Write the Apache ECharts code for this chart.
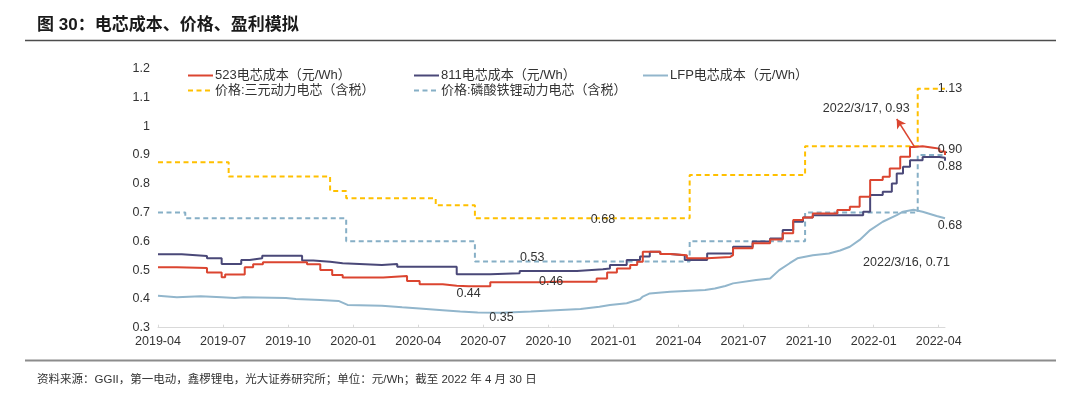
<!DOCTYPE html>
<html>
<head>
<meta charset="utf-8">
<script src="https://cdn.jsdelivr.net/npm/echarts@6/dist/echarts.min.js"></script>
<style>
html,body{margin:0;padding:0;background:#fff;}
#chart{width:1080px;height:394px;}
</style>
</head>
<body>
<div id="chart"></div>
<script>
// ---------------- DATA ----------------
const seriesNames = ['523电芯成本（元/Wh）', '811电芯成本（元/Wh）', 'LFP电芯成本（元/Wh）', '价格:三元动力电芯（含税）', '价格:磷酸铁锂动力电芯（含税）'];

const tickDates = ['2019-04-01','2019-07-03','2019-10-04','2020-01-05','2020-04-07','2020-07-09','2020-10-10','2021-01-11','2021-04-14','2021-07-16','2021-10-17','2022-01-18','2022-04-21'];
const tickLabels = ['2019-04','2019-07','2019-10','2020-01','2020-04','2020-07','2020-10','2021-01','2021-04','2021-07','2021-10','2022-01','2022-04'];
const xStart = '2019-04-01';
const xEnd = '2022-04-30';

const cost523 = [
 ['2019-04-01',0.510],['2019-04-28',0.507],['2019-06-10',0.492],['2019-07-01',0.475],['2019-07-06',0.485],
 ['2019-08-03',0.510],['2019-08-15',0.520],['2019-08-29',0.527],['2019-10-31',0.520],['2019-11-19',0.500],
 ['2019-12-06',0.483],['2019-12-21',0.474],['2020-02-17',0.480],['2020-03-22',0.462],['2020-04-09',0.451],
 ['2020-05-12',0.446],['2020-06-01',0.444],['2020-06-18',0.444],['2020-07-19',0.458],['2020-10-02',0.460],
 ['2020-10-14',0.460],['2020-12-18',0.471],['2021-01-02',0.492],['2021-01-16',0.506],['2021-02-04',0.518],
 ['2021-02-14',0.529],['2021-02-22',0.564],['2021-03-19',0.556],['2021-04-02',0.552],['2021-04-26',0.541],
 ['2021-05-25',0.546],['2021-06-27',0.552],['2021-07-01',0.576],['2021-07-29',0.593],['2021-08-23',0.606],
 ['2021-09-10',0.628],['2021-09-25',0.674],['2021-10-09',0.683],['2021-10-23',0.697],['2021-11-27',0.709],
 ['2021-12-15',0.720],['2021-12-29',0.755],['2022-01-13',0.813],['2022-01-31',0.824],['2022-02-10',0.853],
 ['2022-02-25',0.894],['2022-03-11',0.928],['2022-03-17',0.930],['2022-03-29',0.925],['2022-04-13',0.922],
 ['2022-04-22',0.912],['2022-04-30',0.900]
];

const cost811 = [
 ['2019-04-01',0.555],['2019-05-05',0.549],['2019-06-10',0.541],['2019-07-01',0.521],['2019-07-29',0.535],
 ['2019-08-10',0.541],['2019-08-28',0.550],['2019-10-24',0.533],['2019-11-09',0.529],['2019-12-03',0.524],
 ['2019-12-21',0.518],['2020-02-15',0.521],['2020-03-08',0.512],['2020-06-01',0.486],['2020-07-19',0.489],
 ['2020-08-30',0.497],['2020-11-20',0.503],['2020-12-27',0.506],['2021-01-06',0.518],['2021-01-30',0.535],
 ['2021-02-18',0.547],['2021-03-04',0.564],['2021-03-19',0.556],['2021-04-02',0.552],['2021-04-23',0.535],
 ['2021-05-25',0.558],['2021-07-01',0.581],['2021-07-29',0.599],['2021-08-23',0.610],['2021-09-10',0.639],
 ['2021-09-25',0.668],['2021-10-09',0.683],['2021-10-23',0.691],['2022-01-03',0.703],['2022-01-13',0.761],
 ['2022-01-31',0.772],['2022-02-13',0.801],['2022-02-20',0.836],['2022-03-01',0.859],['2022-03-11',0.882],
 ['2022-03-29',0.893],['2022-04-22',0.890],['2022-04-30',0.880]
];

const costLFP = [
 ['2019-04-01',0.411],['2019-04-28',0.406],['2019-06-01',0.409],['2019-07-01',0.406],['2019-07-20',0.403],
 ['2019-08-01',0.406],['2019-10-01',0.403],['2019-10-15',0.400],['2019-11-19',0.396],['2019-12-15',0.393],
 ['2019-12-28',0.379],['2020-02-15',0.376],['2020-03-15',0.371],['2020-04-09',0.367],['2020-05-12',0.361],
 ['2020-06-06',0.356],['2020-07-01',0.353],['2020-08-04',0.352],['2020-09-15',0.356],['2020-10-20',0.361],
 ['2020-11-25',0.365],['2020-12-22',0.373],['2021-01-06',0.379],['2021-01-30',0.385],['2021-02-18',0.399],
 ['2021-02-22',0.408],['2021-03-04',0.419],['2021-04-02',0.425],['2021-05-22',0.431],['2021-06-05',0.436],
 ['2021-06-20',0.445],['2021-07-01',0.454],['2021-08-03',0.466],['2021-08-23',0.471],['2021-09-05',0.500],
 ['2021-09-20',0.524],['2021-10-01',0.541],['2021-10-23',0.552],['2021-11-15',0.558],['2021-12-01',0.568],
 ['2021-12-15',0.581],['2021-12-29',0.605],['2022-01-13',0.639],['2022-01-31',0.668],['2022-02-20',0.691],
 ['2022-03-01',0.703],['2022-03-16',0.710],['2022-03-29',0.703],['2022-04-18',0.688],['2022-04-30',0.680]
];

const priceNCM = [
 ['2019-04-01',0.875],['2019-07-11',0.825],['2019-12-03',0.775],['2019-12-26',0.750],['2020-05-02',0.725],
 ['2020-06-27',0.680],['2020-12-27',0.680],['2021-04-30',0.830],['2021-10-12',0.930],['2022-03-22',1.130],
 ['2022-04-30',1.130]
];

const priceLFP = [
 ['2019-04-01',0.700],['2019-05-10',0.680],['2019-12-26',0.600],['2020-06-27',0.530],['2020-09-17',0.530],
 ['2021-04-30',0.600],['2021-10-12',0.700],['2022-03-22',0.900],['2022-04-30',0.900]
];

// annotation arrow (from the 523 peak toward its callout text)
const arrow523 = [['2022-03-17',0.930],['2022-02-20',1.025]];

// ---------------- HELPERS ----------------
function t(s){ const p = s.split('-').map(Number); return new Date(p[0], p[1]-1, p[2]).getTime(); }
const FONT = '"Liberation Sans", Arial, "Noto Sans CJK SC", sans-serif';
const TXT = '#333333';
const tickTimes = tickDates.map(t);

function valLabel(offset, text){
  return {show:true, position:'inside', offset:offset, color:TXT, fontSize:12.5, fontFamily:FONT,
    formatter: text ? text : (p => p.value[1].toFixed(2))};
}
function build(pairs, labels){
  return pairs.map(([d,v]) => {
    const o = {value:[t(d), v]};
    if (labels[d]) o.label = labels[d];
    return o;
  });
}

const lbl523 = {
  '2020-06-18': valLabel([0,7]),
  '2020-10-14': valLabel([0,0]),
  '2022-03-17': valLabel([-48,-38], '2022/3/17, 0.93'),
  '2022-04-30': valLabel([5,-5])
};
const lbl811 = { '2022-04-30': valLabel([5,6]) };
const lblLFP = {
  '2020-08-04': valLabel([0,5]),
  '2022-03-16': valLabel([-7,53], '2022/3/16, 0.71'),
  '2022-04-30': valLabel([5,7])
};
const lblNCM = { '2020-12-27': valLabel([0,1]), '2022-04-30': valLabel([5,0]) };
const lblPLFP = { '2020-09-17': valLabel([0,-4]) };

const C523 = '#DB4530', C811 = '#4A4878', CLFP = '#92B6CC', CNCM = '#FFC000', CPLFP = '#86AFC6';

const chart = echarts.init(document.getElementById('chart'), null, {renderer:'canvas'});

function legendAt(name, left, top){
  return {data:[name], left:left, top:top, padding:0, itemWidth:25, itemHeight:14, itemGap:0,
    itemStyle:{opacity:0, color:'rgba(0,0,0,0)', borderColor:'rgba(0,0,0,0)', borderWidth:0},
    textStyle:{color:TXT, fontSize:13, fontFamily:FONT, padding:[0,0,0,-3]}, selectedMode:false};
}

function lineSeries(name, pairs, labels, color, dashed, step, z){
  return {name:name, type:'line', step:step, data:build(pairs, labels),
    symbol:'circle', symbolSize:0, showSymbol:true, showAllSymbol:true,
    lineStyle:{color:color, width:2, type: dashed ? [5,3.5] : 'solid'},
    itemStyle:{color:color}, emphasis:{disabled:true}, z:z};
}

const s523 = lineSeries(seriesNames[0], cost523, lbl523, C523, false, 'end', 5);
s523.markLine = {silent:true, symbol:['none','arrow'], symbolSize:[8,9], label:{show:false},
  lineStyle:{color:C523, width:1.5, type:'solid'},
  data:[[{coord:[t(arrow523[0][0]), arrow523[0][1]]},{coord:[t(arrow523[1][0]), arrow523[1][1]]}]]};

const option = {
  animation:false,
  backgroundColor:'#ffffff',
  textStyle:{fontFamily:FONT},
  grid:{left:158, right:135, top:68.6, bottom:66.3, containLabel:false},
  legend:[
    legendAt(seriesNames[0], 187, 69),
    legendAt(seriesNames[1], 413, 69),
    legendAt(seriesNames[2], 642, 69),
    legendAt(seriesNames[3], 187, 84),
    legendAt(seriesNames[4], 413, 84)
  ],
  xAxis:{
    type:'value', min:t(xStart), max:t(xEnd), scale:true,
    axisLine:{show:true, lineStyle:{color:'#d9d9d9', width:1}},
    axisTick:{show:true, inside:true, length:3, lineStyle:{color:'#d9d9d9'}, customValues: tickTimes},
    axisLabel:{show:true, color:TXT, fontSize:12.5, fontFamily:FONT, margin:8,
      customValues: tickTimes,
      formatter: v => { const i = tickTimes.indexOf(v); return i >= 0 ? tickLabels[i] : ''; }},
    splitLine:{show:false}
  },
  yAxis:{
    type:'value', min:0.3, max:1.2, interval:0.1,
    axisLine:{show:false}, axisTick:{show:false}, splitLine:{show:false},
    axisLabel:{color:TXT, fontSize:12.5, fontFamily:FONT, margin:8}
  },
  series:[
    lineSeries(seriesNames[3], priceNCM, lblNCM, CNCM, true, 'end', 2),
    lineSeries(seriesNames[4], priceLFP, lblPLFP, CPLFP, true, 'end', 2),
    lineSeries(seriesNames[2], costLFP, lblLFP, CLFP, false, false, 3),
    lineSeries(seriesNames[1], cost811, lbl811, C811, false, 'end', 4),
    s523
  ],
  graphic:[
    {type:'text', left:37, top:17, style:{text:'图 30：电芯成本、价格、盈利模拟', fill:'#1a1a1a',
      font:'bold 17px "Liberation Sans", "Noto Sans CJK SC", sans-serif'}},
    {type:'line', shape:{x1:25, y1:40.5, x2:1056, y2:40.5}, style:{stroke:'#4d4d4d', lineWidth:1.3}},
    {type:'line', shape:{x1:25, y1:360.5, x2:1056, y2:360.5}, style:{stroke:'#8c8c8c', lineWidth:2}},
    {type:'text', left:37, top:374, style:{text:'资料来源：GGII，第一电动，鑫椤锂电，光大证券研究所；单位：元/Wh；截至 2022 年 4 月 30 日',
      fill:'#333333', font:'11.5px "Liberation Sans", "Noto Sans CJK SC", sans-serif'}}
  ]
};
chart.setOption(option);
</script>
</body>
</html>
